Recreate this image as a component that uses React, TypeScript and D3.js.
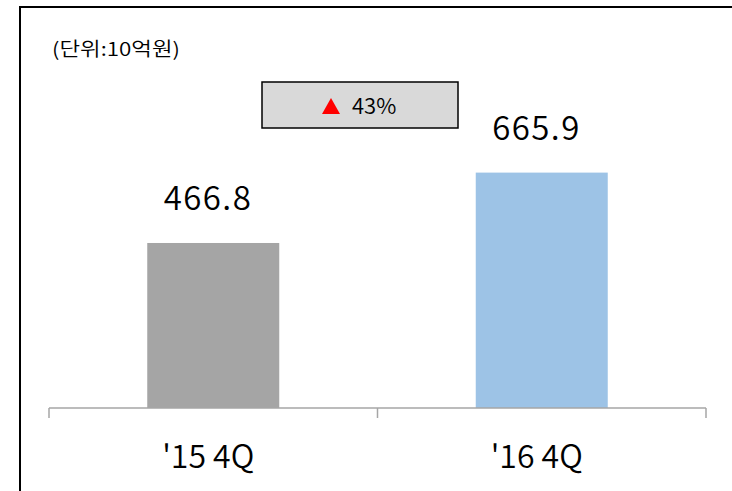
import React from "react";
import * as d3 from "d3";

const categories = ["'15 4Q", "'16 4Q"];
const values = [466.8, 665.9];
const barColors = ["#a5a5a5", "#9dc3e6"];
const unitLabel = "(단위:10억원)";
const growthLabel = "43%";

const W = 732;
const H = 491;
const FONT = "'Noto Sans CJK KR', 'Noto Sans', sans-serif";

export default function App() {
	const x = d3.scaleBand<string>().domain(categories).range([49, 706]).paddingInner(0).paddingOuter(0);
	const y = d3.scaleLinear().domain([0, 800]).range([408, 125.2]);
	const barW = 132;

	const ticks = [49, ...categories.map((c) => (x(c) ?? 0) + x.bandwidth())];

	return (
		<svg
			width={W}
			height={H}
			style={{ position: "absolute", left: 0, top: 0 }}
			fontFamily={FONT}
		>
			<rect x={0} y={0} width={W} height={H} fill="#fff" />
			{/* frame, open to the right and bottom */}
			<rect x={20} y={7} width={W + 20} height={H + 20} fill="none" stroke="#000" strokeWidth={2} />

			<text x={52} y={56} fontSize={19} fill="#000" fontWeight={350} textLength={128} lengthAdjust="spacingAndGlyphs">
				{unitLabel}
			</text>

			{categories.map((c, i) => {
				const cx = (x(c) ?? 0) + x.bandwidth() / 2;
				return (
					<g key={c}>
						<rect
							x={cx - barW / 2}
							y={y(values[i])}
							width={barW}
							height={y(0) - y(values[i])}
							fill={barColors[i]}
						/>
						<text
							x={cx - 6}
							y={y(values[i]) - 33}
							textAnchor="middle"
							fontSize={33}
							fontWeight={350}
							fill="#000"
							textLength={87}
							lengthAdjust="spacing"
						>
							{d3.format(".1f")(values[i])}
						</text>
						<text x={cx - 5} y={468} textAnchor="middle" fontSize={32} fontWeight={350} fill="#000">
							{c}
						</text>
					</g>
				);
			})}

			<line x1={49} x2={706} y1={408} y2={408} stroke="#a6a6a6" strokeWidth={1.5} />
			{ticks.map((t, i) => (
				<line key={i} x1={t} x2={t} y1={408} y2={418} stroke="#a6a6a6" strokeWidth={1.5} />
			))}

			<g>
				<rect x={262} y={82} width={196} height={46} fill="#d9d9d9" stroke="#000" strokeWidth={1.5} />
				<path d="M331,98 L340,114 L322,114 Z" fill="#ff0000" />
				<text x={352} y={114} fontSize={22} fontWeight={350} fill="#000">
					{growthLabel}
				</text>
			</g>
		</svg>
	);
}
